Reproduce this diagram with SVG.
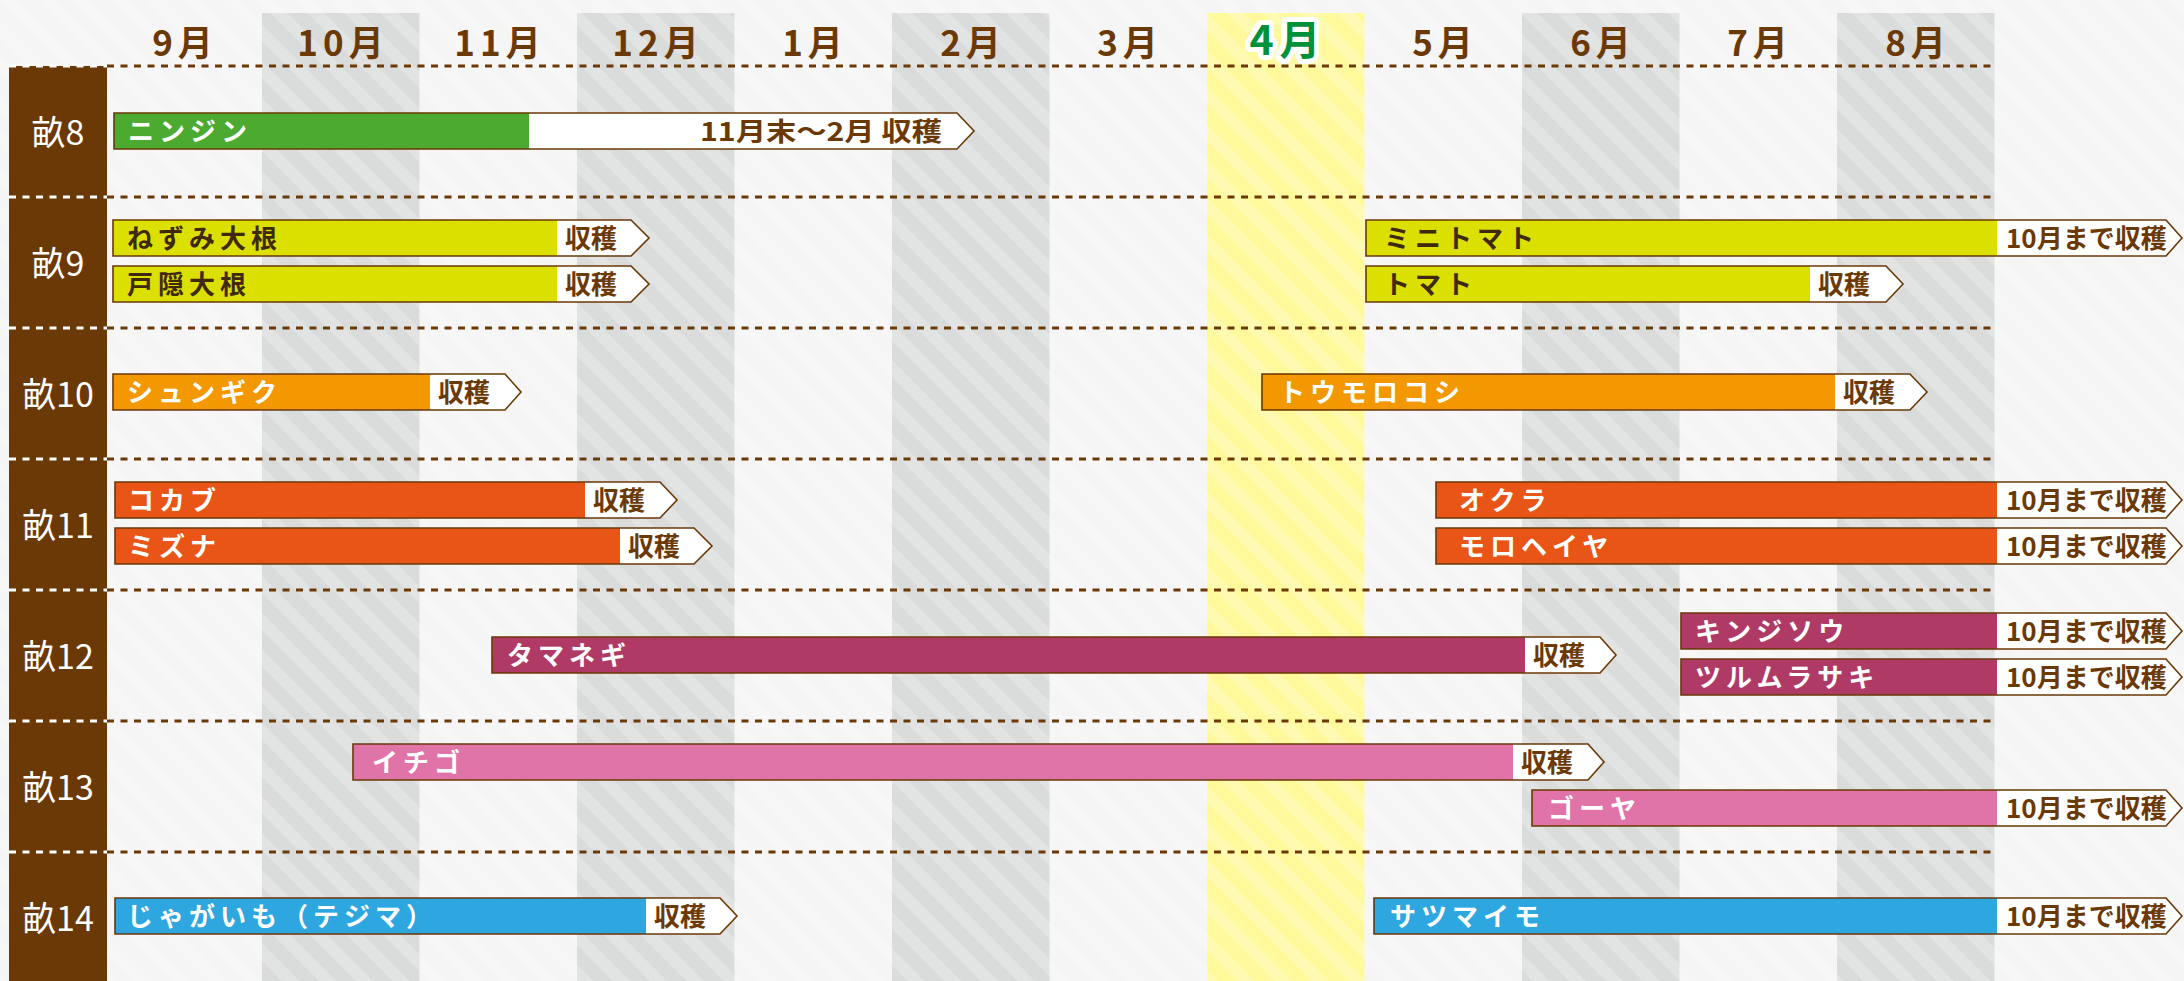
<svg xmlns="http://www.w3.org/2000/svg" width="2184" height="981" viewBox="0 0 2184 981">
<defs>
<pattern id="stripes" patternUnits="userSpaceOnUse" width="26" height="26" patternTransform="rotate(-45)">
<rect x="0" y="0" width="12" height="26" fill="#ffffff"/>
</pattern>
<style>
.mon{font-family:"Noto Sans CJK JP","Noto Sans",sans-serif;font-weight:700;font-size:35px;fill:#6a3906;text-anchor:middle;letter-spacing:5px}
.apr{font-family:"Noto Sans CJK JP","Noto Sans",sans-serif;font-weight:700;font-size:41px;fill:#00913a;stroke:#ffffff;stroke-width:10px;stroke-linejoin:round;paint-order:stroke;text-anchor:middle;letter-spacing:6px}
.plot{font-family:"Noto Sans CJK JP","Noto Sans",sans-serif;font-weight:400;font-size:34px;fill:#ffffff;text-anchor:middle}
.name{font-family:"Noto Sans CJK JP","Noto Sans",sans-serif;font-weight:700;font-size:26px;fill:#ffffff;letter-spacing:5px}
.dark{fill:#40290a}
.harv{font-family:"Noto Sans CJK JP","Noto Sans",sans-serif;font-weight:700;font-size:26px;fill:#6a3906}
.ol{fill:none;stroke:#6a3906;stroke-width:1.6;stroke-linejoin:miter}
.wb{fill:#ffffff}
.dash{stroke:#6a3906;stroke-width:3;stroke-dasharray:7 6.5;fill:none}
.dashw{stroke:#ffffff;stroke-width:3;stroke-dasharray:7 6.5;fill:none}
.gray{fill:#dadbdb}
.c-green{fill:#4caa30}
.c-lime{fill:#dce000}
.c-orange{fill:#f39800}
.c-red{fill:#e95516}
.c-mag{fill:#b03a66}
.c-pink{fill:#e073a8}
.c-blue{fill:#2ea7e0}
</style>
</defs>

<g id="background">
<rect x="0" y="0" width="2184" height="981" fill="#f5f5f5"/>
<rect x="262" y="13" width="157.5" height="968" class="gray"/>
<rect x="577" y="13" width="157.5" height="968" class="gray"/>
<rect x="892" y="13" width="157.5" height="968" class="gray"/>
<rect x="1207" y="13" width="157.5" height="968" fill="#fff99c"/>
<rect x="1522" y="13" width="157.5" height="968" class="gray"/>
<rect x="1837" y="13" width="157.5" height="968" class="gray"/>
<rect x="0" y="0" width="2184" height="981" fill="url(#stripes)" opacity="0.22"/>
</g>

<g id="months">
<text class="mon" x="185" y="56">9月</text>
<text class="mon" x="343" y="56">10月</text>
<text class="mon" x="500" y="56">11月</text>
<text class="mon" x="658" y="56">12月</text>
<text class="mon" x="815" y="56">1月</text>
<text class="mon" x="973" y="56">2月</text>
<text class="mon" x="1130" y="56">3月</text>
<text class="apr" x="1288" y="55">4月</text>
<text class="mon" x="1445" y="56">5月</text>
<text class="mon" x="1603" y="56">6月</text>
<text class="mon" x="1760" y="56">7月</text>
<text class="mon" x="1918" y="56">8月</text>
</g>

<g id="plot-labels">
<rect x="9" y="66" width="98" height="915" fill="#6a3906"/>
<text class="plot" x="58" y="145">畝8</text>
<text class="plot" x="58" y="276">畝9</text>
<text class="plot" x="58" y="407">畝10</text>
<text class="plot" x="58" y="538">畝11</text>
<text class="plot" x="58" y="669">畝12</text>
<text class="plot" x="58" y="800">畝13</text>
<text class="plot" x="58" y="931">畝14</text>
</g>

<g id="row-lines">
<path class="dash" d="M107,66H1994M107,197H1994M107,328H1994M107,459H1994M107,590H1994M107,721H1994M107,852H1994"/>
<path class="dashw" d="M9,66H107M9,197H107M9,328H107M9,459H107M9,590H107M9,721H107M9,852H107"/>
</g>

<g id="bar-ninjin">
<path class="wb" d="M114,113H957L974,131L957,149H114Z"/>
<rect class="c-green" x="114" y="113" width="415" height="36"/>
<path class="ol" d="M114,113H957L974,131L957,149H114Z"/>
<text class="name" x="128" y="141">ニンジン</text>
<text class="harv" x="942" y="141" text-anchor="end" textLength="242" lengthAdjust="spacingAndGlyphs">11月末〜2月 収穫</text>
</g>

<g id="bar-nezumi">
<path class="wb" d="M113,220H631L649,238L631,256H113Z"/>
<rect class="c-lime" x="113" y="220" width="444" height="36"/>
<path class="ol" d="M113,220H631L649,238L631,256H113Z"/>
<text class="name dark" x="127" y="248">ねずみ大根</text>
<text class="harv" x="565" y="248">収穫</text>
</g>

<g id="bar-togakushi">
<path class="wb" d="M113,266H631L649,284L631,302H113Z"/>
<rect class="c-lime" x="113" y="266" width="444" height="36"/>
<path class="ol" d="M113,266H631L649,284L631,302H113Z"/>
<text class="name dark" x="127" y="294">戸隠大根</text>
<text class="harv" x="565" y="294">収穫</text>
</g>

<g id="bar-minitomato">
<path class="wb" d="M1366,220H2166L2182,238L2166,256H1366Z"/>
<rect class="c-lime" x="1366" y="220" width="631" height="36"/>
<path class="ol" d="M1366,220H2166L2182,238L2166,256H1366Z"/>
<text class="name dark" x="1384" y="248">ミニトマト</text>
<text class="harv" x="2006" y="248">10月まで収穫</text>
</g>

<g id="bar-tomato">
<path class="wb" d="M1366,266H1886L1903,284L1886,302H1366Z"/>
<rect class="c-lime" x="1366" y="266" width="444" height="36"/>
<path class="ol" d="M1366,266H1886L1903,284L1886,302H1366Z"/>
<text class="name dark" x="1384" y="294">トマト</text>
<text class="harv" x="1818" y="294">収穫</text>
</g>

<g id="bar-shungiku">
<path class="wb" d="M113,374H505L521,392L505,410H113Z"/>
<rect class="c-orange" x="113" y="374" width="317" height="36"/>
<path class="ol" d="M113,374H505L521,392L505,410H113Z"/>
<text class="name" x="127" y="402">シュンギク</text>
<text class="harv" x="438" y="402">収穫</text>
</g>

<g id="bar-toumorokoshi">
<path class="wb" d="M1262,374H1910L1927,392L1910,410H1262Z"/>
<rect class="c-orange" x="1262" y="374" width="573" height="36"/>
<path class="ol" d="M1262,374H1910L1927,392L1910,410H1262Z"/>
<text class="name" x="1279" y="402">トウモロコシ</text>
<text class="harv" x="1843" y="402">収穫</text>
</g>

<g id="bar-kokabu">
<path class="wb" d="M115,482H660L677,500L660,518H115Z"/>
<rect class="c-red" x="115" y="482" width="470" height="36"/>
<path class="ol" d="M115,482H660L677,500L660,518H115Z"/>
<text class="name" x="128" y="510">コカブ</text>
<text class="harv" x="593" y="510">収穫</text>
</g>

<g id="bar-mizuna">
<path class="wb" d="M115,528H694L712,546L694,564H115Z"/>
<rect class="c-red" x="115" y="528" width="505" height="36"/>
<path class="ol" d="M115,528H694L712,546L694,564H115Z"/>
<text class="name" x="128" y="556">ミズナ</text>
<text class="harv" x="628" y="556">収穫</text>
</g>

<g id="bar-okura">
<path class="wb" d="M1436,482H2166L2182,500L2166,518H1436Z"/>
<rect class="c-red" x="1436" y="482" width="561" height="36"/>
<path class="ol" d="M1436,482H2166L2182,500L2166,518H1436Z"/>
<text class="name" x="1459" y="510">オクラ</text>
<text class="harv" x="2006" y="510">10月まで収穫</text>
</g>

<g id="bar-moroheiya">
<path class="wb" d="M1436,528H2166L2182,546L2166,564H1436Z"/>
<rect class="c-red" x="1436" y="528" width="561" height="36"/>
<path class="ol" d="M1436,528H2166L2182,546L2166,564H1436Z"/>
<text class="name" x="1459" y="556">モロヘイヤ</text>
<text class="harv" x="2006" y="556">10月まで収穫</text>
</g>

<g id="bar-tamanegi">
<path class="wb" d="M492,637H1600L1616,655L1600,673H492Z"/>
<rect class="c-mag" x="492" y="637" width="1033" height="36"/>
<path class="ol" d="M492,637H1600L1616,655L1600,673H492Z"/>
<text class="name" x="507" y="665">タマネギ</text>
<text class="harv" x="1533" y="665">収穫</text>
</g>

<g id="bar-kinjisou">
<path class="wb" d="M1681,613H2166L2182,631L2166,649H1681Z"/>
<rect class="c-mag" x="1681" y="613" width="316" height="36"/>
<path class="ol" d="M1681,613H2166L2182,631L2166,649H1681Z"/>
<text class="name" x="1695" y="641">キンジソウ</text>
<text class="harv" x="2006" y="641">10月まで収穫</text>
</g>

<g id="bar-tsurumurasaki">
<path class="wb" d="M1681,659H2166L2182,677L2166,695H1681Z"/>
<rect class="c-mag" x="1681" y="659" width="316" height="36"/>
<path class="ol" d="M1681,659H2166L2182,677L2166,695H1681Z"/>
<text class="name" x="1695" y="687">ツルムラサキ</text>
<text class="harv" x="2006" y="687">10月まで収穫</text>
</g>

<g id="bar-ichigo">
<path class="wb" d="M353,744H1588L1604,762L1588,780H353Z"/>
<rect class="c-pink" x="353" y="744" width="1160" height="36"/>
<path class="ol" d="M353,744H1588L1604,762L1588,780H353Z"/>
<text class="name" x="372" y="772">イチゴ</text>
<text class="harv" x="1521" y="772">収穫</text>
</g>

<g id="bar-goya">
<path class="wb" d="M1532,790H2166L2182,808L2166,826H1532Z"/>
<rect class="c-pink" x="1532" y="790" width="465" height="36"/>
<path class="ol" d="M1532,790H2166L2182,808L2166,826H1532Z"/>
<text class="name" x="1548" y="818">ゴーヤ</text>
<text class="harv" x="2006" y="818">10月まで収穫</text>
</g>

<g id="bar-jagaimo">
<path class="wb" d="M115,898H720L737,916L720,934H115Z"/>
<rect class="c-blue" x="115" y="898" width="531" height="36"/>
<path class="ol" d="M115,898H720L737,916L720,934H115Z"/>
<text class="name" x="127" y="926">じゃがいも（テジマ）</text>
<text class="harv" x="654" y="926">収穫</text>
</g>

<g id="bar-satsumaimo">
<path class="wb" d="M1374,898H2166L2182,916L2166,934H1374Z"/>
<rect class="c-blue" x="1374" y="898" width="623" height="36"/>
<path class="ol" d="M1374,898H2166L2182,916L2166,934H1374Z"/>
<text class="name" x="1390" y="926">サツマイモ</text>
<text class="harv" x="2006" y="926">10月まで収穫</text>
</g>
</svg>
